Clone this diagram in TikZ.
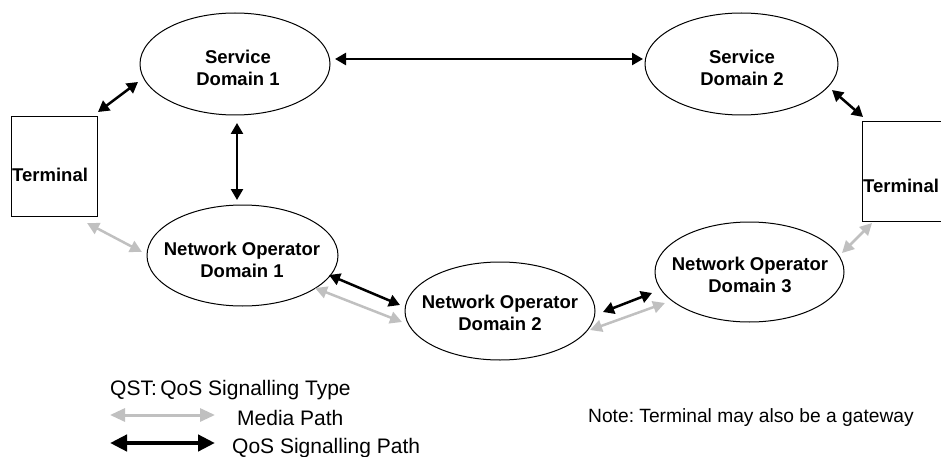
\documentclass[tikz,border=0pt]{standalone}
\usepackage{fontspec}
\setmainfont{Liberation Sans}
\usetikzlibrary{shapes.geometric,arrows.meta,calc}
\definecolor{media}{RGB}{192,192,192}
\frenchspacing
\begin{document}
\begin{tikzpicture}[x=1pt,y=-1pt,
  dom/.style={draw, ellipse, line width=1pt, inner sep=0pt},
  termbox/.style={draw, rectangle, line width=1pt, inner sep=0pt, minimum width=86pt, minimum height=99pt},
  lbl/.style={font=\bfseries\fontsize{18.5}{22}\selectfont, align=center, inner sep=0pt},
  termtext/.style={font=\bfseries\fontsize{18.5}{22}\selectfont, inner sep=0pt, anchor=base west},
  leg/.style={font=\fontsize{21}{25}\selectfont, inner sep=0pt, anchor=base west},
  note/.style={font=\fontsize{19.2}{23}\selectfont, inner sep=0pt, anchor=base west},
  sig/.style={line width=2.5pt, {Triangle[length=11pt,width=12pt]}-{Triangle[length=11pt,width=12pt]}},
  med/.style={draw=media, line width=2.5pt, {Triangle[length=12pt,width=12pt]}-{Triangle[length=12pt,width=12pt]}, color=media},
  legsig/.style={line width=4.5pt, {Triangle[length=17pt,width=16pt]}-{Triangle[length=17pt,width=16pt]}},
  legmed/.style={draw=media, line width=3pt, {Triangle[length=15pt,width=13pt]}-{Triangle[length=15pt,width=13pt]}, color=media}
]
\useasboundingbox (0,0) rectangle (941,457);
\clip (0,0) rectangle (941,457);

% domains
\node[dom, minimum width=190pt, minimum height=102pt] (sd1) at (235,64) {};
\node[dom, minimum width=193pt, minimum height=102pt] (sd2) at (741.5,64) {};
\node[dom, minimum width=191pt, minimum height=101pt] (nod1) at (242.5,255.5) {};
\node[dom, minimum width=190pt, minimum height=98pt] (nod2) at (500,311) {};
\node[dom, minimum width=189pt, minimum height=100pt] (nod3) at (749.5,272) {};

\node[lbl] (sd1t) at (238,68) {Service\\Domain 1};
\node[lbl] (sd2t) at (742,68) {Service\\Domain 2};
\node[lbl] (nod1t) at (242,259.5) {Network Operator\\Domain 1};
\node[lbl] (nod2t) at (500,312.5) {Network Operator\\Domain 2};
\node[lbl] (nod3t) at (750,274.5) {Network Operator\\Domain 3};

% terminals
\node[termbox] (termL) at (54,166.5) {};
\node[termbox] (termR) at (905,171.5) {};
\node[termtext] (termLt) at (12,182) {Terminal};
\node[termtext] (termRt) at (863,193) {Terminal};

% QoS signalling paths
\draw[sig] ($(sd1.center)+(100,-5)$) -- ($(sd2.center)+(-98.5,-5)$);
\draw[sig] ($(termL.center)+(44,-54.5)$) -- ($(sd1.center)+(-97,18)$);
\draw[sig] ($(sd1.center)+(2,59)$) -- ($(nod1.center)+(-5.5,-55.5)$);
\draw[sig] ($(sd2.center)+(90.5,26)$) -- ($(termR.center)+(-42,-54.5)$);
\draw[sig] ($(nod1.center)+(86.5,19.5)$) -- ($(nod2.center)+(-100,-6)$);
\draw[sig] ($(nod2.center)+(103,1)$) -- ($(nod3.center)+(-97.5,21)$);

% media paths
\draw[med] ($(termL.center)+(33,56.5)$) -- ($(nod1.center)+(-100.5,-3.5)$);
\draw[med] ($(nod1.center)+(72.5,32.5)$) -- ($(nod2.center)+(-98,11)$);
\draw[med] ($(nod2.center)+(90,19)$) -- ($(nod3.center)+(-84.5,31)$);
\draw[med] ($(nod3.center)+(92.5,-19)$) -- ($(termR.center)+(-33,51.5)$);

% legend
\node[leg] (qst) at (110,395) {QST:\,QoS Signalling Type};
\coordinate (lm1) at (110,415);
\coordinate (lm2) at (215,415);
\coordinate (ls1) at (110,443);
\coordinate (ls2) at (215,443);
\draw[legmed] (lm1) -- (lm2);
\draw[legsig] (ls1) -- (ls2);
\node[leg] (medt) at (237,425) {Media Path};
\node[leg] (sigt) at (232,453) {QoS Signalling Path};
\node[note] (notet) at (588,422) {Note: Terminal may also be a gateway};
\end{tikzpicture}
\end{document}
